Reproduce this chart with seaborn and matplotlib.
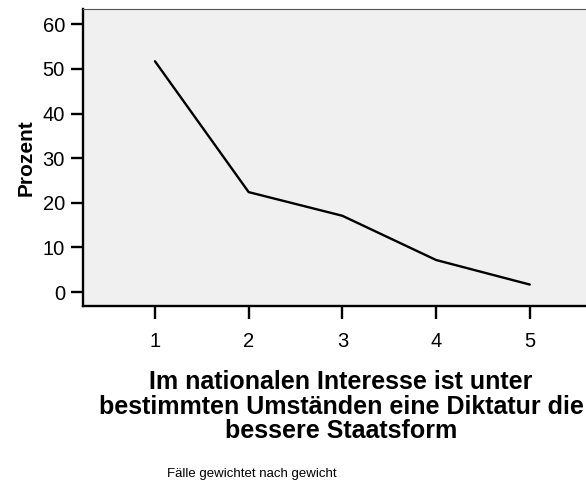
import matplotlib.pyplot as plt
import numpy as np
import pandas as pd
import seaborn as sns

# response categories and percentages
categories = [1, 2, 3, 4, 5]
percent = [51.7, 22.4, 17.1, 7.2, 1.7]
y_ticks = [0, 10, 20, 30, 40, 50, 60]

x_title = "Im nationalen Interesse ist unter\nbestimmten Umständen eine Diktatur die\nbessere Staatsform"
y_title = "Prozent"
footer = "Fälle gewichtet nach gewicht"

sns.set_theme(style="white")
plt.rcParams["font.family"] = ["Liberation Sans", "DejaVu Sans"]
plt.rcParams["text.color"] = "black"

df = pd.DataFrame({"category": categories, "percent": percent})

fig = plt.figure(figsize=(5.86, 4.86), dpi=100)
ax = fig.add_axes([83 / 586, 1 - 306 / 486, 1 - 83 / 586, (306 - 9) / 486])
ax.set_facecolor("#f0f0f0")

sns.lineplot(data=df, x="category", y="percent", color="black", linewidth=1.7, ax=ax)

ax.set_xlim(0.232, 5.6)
ax.set_ylim(-3.1, 63.4)
ax.set_xticks(categories)
ax.set_yticks(y_ticks)
ax.tick_params(axis="both", bottom=True, left=True, direction="out", length=9,
               width=1.7, color="black", labelsize=14.5, labelcolor="black")
ax.tick_params(axis="x", pad=10)
ax.tick_params(axis="y", pad=4)

for side in ["left", "bottom"]:
    ax.spines[side].set_color("black")
    ax.spines[side].set_linewidth(1.7)
ax.spines["top"].set_color("#555555")
ax.spines["top"].set_linewidth(0.8)
ax.spines["right"].set_visible(False)

ax.set_xlabel("")
ax.set_ylabel(y_title, fontsize=15, fontweight="bold", labelpad=5, color="black")

fig.text(341 / 586, 1 - 370 / 486, x_title, ha="center", va="top",
         fontsize=18, fontweight="bold", linespacing=1.03)
fig.text(252 / 586, 1 - 474 / 486, footer, ha="center", va="center", fontsize=9.5)

fig.savefig("out.png", dpi=100)
